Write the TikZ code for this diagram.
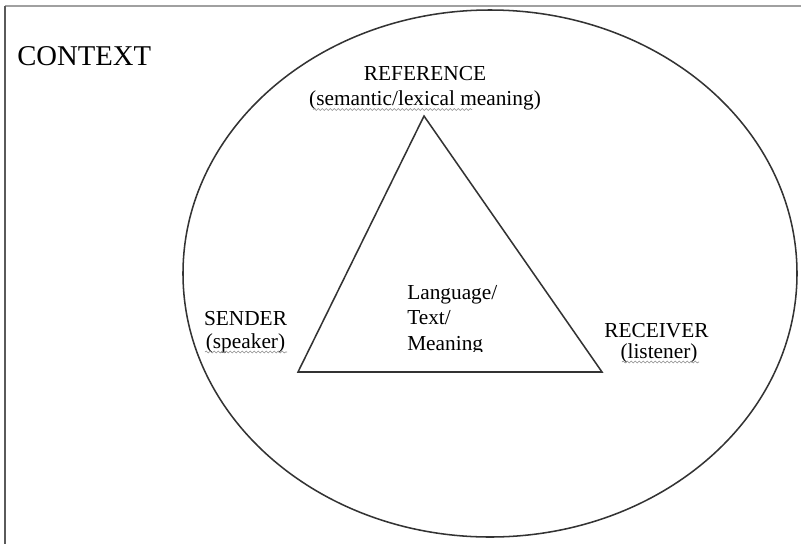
\documentclass[tikz,border=0pt]{standalone}
\usepackage{fontspec}
\setmainfont{Liberation Serif}
\usetikzlibrary{decorations.pathmorphing}

\definecolor{inkline}{HTML}{333333}
\definecolor{frametop}{HTML}{A0A0A0}
\definecolor{frameleft}{HTML}{5A5A5A}
\definecolor{squiggle}{HTML}{8C8C8C}

\begin{document}
\begin{tikzpicture}[x=0.75pt,y=-0.75pt,
  lbl/.style={inner sep=0pt, anchor=base, font=\fontsize{16}{18}\selectfont},
  lblw/.style={lbl, anchor=base west},
  outline/.style={draw=inkline, line width=1.15pt},
  spell/.style={draw=squiggle, line width=0.45pt, decorate,
    decoration={snake, segment length=3pt, amplitude=0.7pt}}]

\useasboundingbox (0,0) rectangle (801,544);

% page frame
\draw[frametop, line width=1.5pt] (5,6) -- (801,6);
\draw[frameleft, line width=1.5pt] (5,6) -- (5,544);

% outer context ellipse
\draw[outline] (490,273.5) ellipse [x radius=307, y radius=263.5];
\node[lblw, font=\fontsize{21.5}{24}\selectfont] (context) at (17,65) {CONTEXT};

% communication triangle
\coordinate (apex) at (424,116);
\coordinate (sendc) at (298,372);
\coordinate (recvc) at (602,372);
\draw[outline, line join=miter] (apex) -- (sendc) -- (recvc) -- cycle;

% corner labels
\node[lbl] (ref1) at (425,80.5) {REFERENCE};
\node[lbl] (ref2) at (425,105) {(semantic/lexical meaning)};
\node[lbl] (snd1) at (245.5,325) {SENDER};
\node[lbl] (snd2) at (245.5,348) {(speaker)};
\node[lbl] (rcv1) at (656.5,337) {RECEIVER};
\node[lbl] (rcv2) at (659,358.5) {(listener)};

% centre text, cut off below the last baseline
\begin{scope}
  \clip (395,270) rectangle (530,351.5);
  \node[lblw] (lang1) at (407,299) {Language/};
  \node[lblw] (lang2) at (407,324.5) {Text/};
  \node[lblw] (lang3) at (407,350) {Meaning};
\end{scope}

% spell-check underlines
\draw[spell] (313,109.5) -- (472,109.5);
\draw[spell] (205,352) -- (287,352);
\draw[spell] (622,362) -- (699,362);
\end{tikzpicture}
\end{document}
